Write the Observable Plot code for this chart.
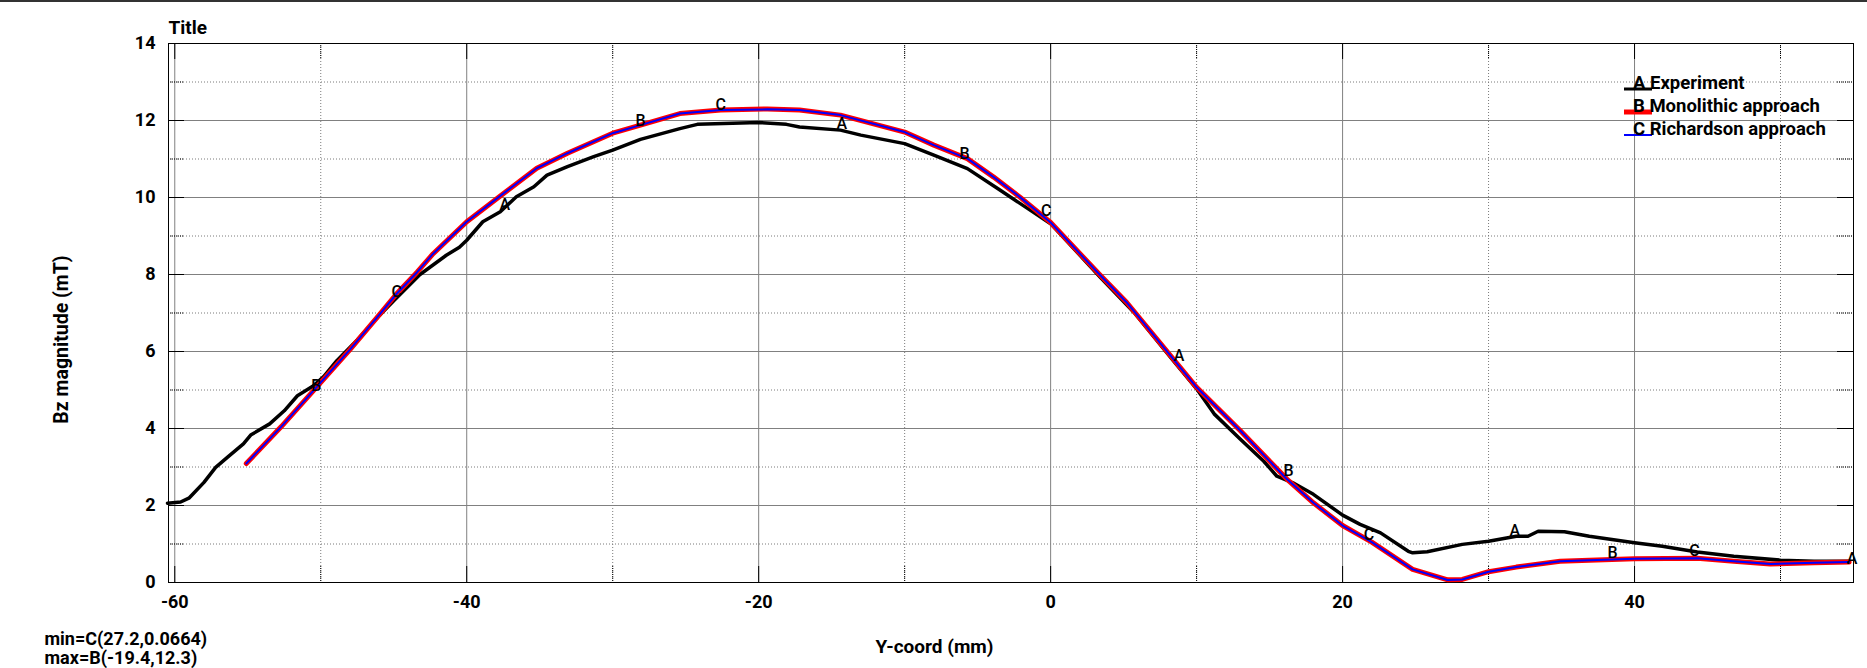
<!DOCTYPE html>
<html><head><meta charset="utf-8">
<script src="https://cdn.jsdelivr.net/npm/d3@7"></script>
<script src="https://cdn.jsdelivr.net/npm/@observablehq/plot@0.6"></script>
<style>
html,body{margin:0;padding:0;background:#fff;}
#chart{position:relative;width:1867px;height:668px;overflow:hidden;}
svg{display:block;}
</style></head><body><div id="chart"></div>
<script>
// ---- tick values ----
const xTicks = [-60, -40, -20, 0, 20, 40];
const xMinor = [-50, -30, -10, 10, 30, 50];
const yTicks = [0, 2, 4, 6, 8, 10, 12, 14];
const yMinor = [1, 3, 5, 7, 9, 11, 13];

// ---- series names / letters ----
const seriesNames = ["Experiment", "Monolithic approach", "Richardson approach"];
const seriesLetters = ["A", "B", "C"];

// ---- Experiment (A) ----
const expX = [-60.5, -59.6, -59.0, -58.0, -57.2, -56.4, -55.3, -54.8, -53.5, -52.5, -51.6, -50.5, -49.8, -48.9, -47.5, -46.0, -45.0, -43.2, -41.4, -40.5, -40.0, -38.9, -37.7, -36.6, -35.4, -34.5, -33.1, -31.3, -30.0, -28.1, -25.4, -24.2, -20.0, -18.1, -17.2, -14.4, -13.0, -10.0, -8.0, -5.7, -3.5, -1.2, 0.0, 3.4, 5.7, 8.4, 10.0, 11.2, 13.0, 14.6, 15.5, 16.6, 18.0, 20.0, 21.2, 22.6, 24.5, 24.8, 25.8, 28.2, 30.0, 31.9, 32.7, 33.4, 35.2, 36.9, 40.0, 41.9, 44.3, 46.8, 50.0, 52.3, 54.7];
const expY = [2.06, 2.09, 2.2, 2.6, 2.99, 3.25, 3.6, 3.83, 4.12, 4.46, 4.85, 5.11, 5.35, 5.76, 6.3, 6.93, 7.32, 8.0, 8.5, 8.71, 8.89, 9.37, 9.63, 10.02, 10.28, 10.58, 10.80, 11.06, 11.23, 11.51, 11.79, 11.90, 11.95, 11.90, 11.83, 11.75, 11.62, 11.40, 11.10, 10.75, 10.20, 9.62, 9.32, 7.93, 7.02, 5.76, 5.03, 4.38, 3.72, 3.15, 2.76, 2.59, 2.29, 1.75, 1.51, 1.29, 0.81, 0.77, 0.80, 0.99, 1.07, 1.20, 1.20, 1.33, 1.32, 1.20, 1.03, 0.94, 0.79, 0.68, 0.58, 0.55, 0.55];

// ---- Monolithic approach (B) ----
const monoX = [-55.1, -52.7, -50.3, -48.0, -45.95, -44.8, -43.4, -42.3, -40.0, -37.5, -35.2, -33.1, -30.0, -28.1, -25.4, -22.6, -19.4, -17.2, -14.4, -10.0, -8.0, -5.7, -3.9, -2.1, 0.0, 3.4, 5.2, 10.0, 13.0, 16.2, 18.0, 20.0, 22.0, 24.8, 27.2, 28.2, 30.0, 31.9, 34.9, 36.9, 40.0, 44.3, 46.8, 49.3, 52.3, 54.7];
const monoY = [3.09, 4.05, 5.07, 6.05, 6.97, 7.50, 8.06, 8.54, 9.37, 10.10, 10.76, 11.15, 11.67, 11.88, 12.18, 12.27, 12.30, 12.27, 12.14, 11.70, 11.36, 11.01, 10.53, 10.01, 9.35, 7.98, 7.28, 5.07, 3.94, 2.68, 2.07, 1.48, 1.05, 0.34, 0.07, 0.08, 0.28, 0.40, 0.55, 0.58, 0.62, 0.63, 0.55, 0.48, 0.51, 0.53];

// ---- Richardson approach (C) ----
const richX = [-55.1, -52.7, -50.3, -48.0, -45.95, -44.8, -43.4, -42.3, -40.0, -37.5, -35.2, -33.1, -30.0, -28.1, -25.4, -22.6, -19.4, -17.2, -14.4, -10.0, -8.0, -5.7, -3.9, -2.1, 0.0, 3.4, 5.2, 10.0, 13.0, 16.2, 18.0, 20.0, 22.0, 24.8, 27.2, 28.2, 30.0, 31.9, 34.9, 36.9, 40.0, 44.3, 46.8, 49.3, 52.3, 54.7];
const richY = [3.09, 4.05, 5.07, 6.05, 6.97, 7.50, 8.06, 8.54, 9.37, 10.10, 10.76, 11.15, 11.67, 11.88, 12.18, 12.27, 12.29, 12.27, 12.14, 11.70, 11.36, 11.01, 10.53, 10.01, 9.35, 7.98, 7.28, 5.07, 3.94, 2.68, 2.07, 1.48, 1.05, 0.34, 0.0664, 0.08, 0.28, 0.40, 0.55, 0.58, 0.62, 0.63, 0.55, 0.48, 0.51, 0.53];

// ---- letter markers along the curves ----
const markA_X = [-37.4, -14.3, 8.8, 31.8, 54.9];
const markA_Y = [9.8, 11.92, 5.89, 1.33, 0.62];
const markB_X = [-50.3, -28.1, -5.9, 16.3, 38.5];
const markB_Y = [5.11, 11.99, 11.14, 2.90, 0.76];
const markC_X = [-44.8, -22.6, -0.3, 21.8, 44.1];
const markC_Y = [7.54, 12.40, 9.64, 1.25, 0.81];

const minText = "min=C(27.2,0.0664)";
const maxText = "max=B(-19.4,12.3)";

// ---- build tables ----
const toRows = (xs, ys) => xs.map((x, i) => ({x, y: ys[i]}));
const expData = toRows(expX, expY);
const monoData = toRows(monoX, monoY);
const richData = toRows(richX, richY);
const markers = [
  ...markA_X.map((x, i) => ({x, y: markA_Y[i], t: seriesLetters[0]})),
  ...markB_X.map((x, i) => ({x, y: markB_Y[i], t: seriesLetters[1]})),
  ...markC_X.map((x, i) => ({x, y: markC_Y[i], t: seriesLetters[2]}))
];

const width = 1867, height = 668;
const mL = 168, mR = 14, mT = 43, mB = 86;
const W = width - mL - mR, H = height - mT - mB;
const tickLen = 16;
const font = "Roboto, 'Liberation Sans', sans-serif";

const plot = Plot.plot({
  width, height,
  marginLeft: mL, marginRight: mR, marginTop: mT, marginBottom: mB,
  x: {domain: [-60.43, 55]},
  y: {domain: [0, 14]},
  style: {fontFamily: font, background: "white", overflow: "visible"},
  marks: [
    // grid
    Plot.ruleX(xMinor, {stroke: "#7a7a7a", strokeDasharray: "1,2"}),
    Plot.ruleY(yMinor, {stroke: "#7a7a7a", strokeDasharray: "1,2"}),
    Plot.ruleX(xTicks, {stroke: "#808080"}),
    Plot.ruleY(yTicks, {stroke: "#808080"}),
    // inward ticks
    Plot.ruleY(yTicks, {stroke: "black", insetRight: W - tickLen}),
    Plot.ruleY(yTicks, {stroke: "black", insetLeft: W - tickLen}),
    Plot.ruleY(yMinor, {stroke: "black", strokeDasharray: "1,1", insetRight: W - tickLen}),
    Plot.ruleY(yMinor, {stroke: "black", strokeDasharray: "1,1", insetLeft: W - tickLen}),
    Plot.ruleX(xTicks, {stroke: "black", insetTop: H - tickLen}),
    Plot.ruleX(xTicks, {stroke: "black", insetBottom: H - tickLen}),
    Plot.ruleX(xMinor, {stroke: "black", strokeDasharray: "1,1", insetTop: H - tickLen}),
    Plot.ruleX(xMinor, {stroke: "black", strokeDasharray: "1,1", insetBottom: H - tickLen}),
    Plot.frame({stroke: "black"}),
    // axes labels
    Plot.axisX(xTicks, {tickSize: 0, tickPadding: 13, fontSize: 18, fontWeight: "bold", fill: "black", tickFormat: d => String(d), label: null}),
    Plot.axisY(yTicks, {tickSize: 0, tickPadding: 13, fontSize: 18, fontWeight: "bold", fill: "black", tickFormat: d => String(d), label: null}),
    // series
    Plot.line(expData, {x: "x", y: "y", stroke: "black", strokeWidth: 3.5}),
    Plot.line(monoData, {x: "x", y: "y", stroke: "#ff0000", strokeWidth: 5}),
    Plot.line(richData, {x: "x", y: "y", stroke: "#0000ff", strokeWidth: 2}),
    Plot.text(markers, {x: "x", y: "y", text: "t", fontSize: 16, fontWeight: 500, fill: "black", textAnchor: "middle", lineAnchor: "middle"}),
    // titles
    Plot.text(["Title"], {text: d => d, frameAnchor: "top-left", dy: -16, textAnchor: "start", lineAnchor: "middle", fontSize: 19, fontWeight: "bold", fill: "black"}),
    Plot.text(["Bz magnitude (mT)"], {text: d => d, frameAnchor: "left", dx: -107, dy: 26.5, rotate: -90, textAnchor: "middle", lineAnchor: "middle", fontSize: 19.5, fontWeight: "bold", fill: "black"}),
    Plot.text(["Y-coord (mm)"], {text: d => d, frameAnchor: "bottom", dx: -76.5, dy: 64, textAnchor: "middle", lineAnchor: "middle", fontSize: 19, fontWeight: "bold", fill: "black"}),
    Plot.text([minText], {text: d => d, frameAnchor: "bottom-left", dx: -124, dy: 57, textAnchor: "start", lineAnchor: "middle", fontSize: 18, fontWeight: "bold", fill: "black"}),
    Plot.text([maxText], {text: d => d, frameAnchor: "bottom-left", dx: -124, dy: 75.5, textAnchor: "start", lineAnchor: "middle", fontSize: 18, fontWeight: "bold", fill: "black"})
  ]
});

document.getElementById("chart").appendChild(plot);

// ---- legend (inside top-right of the frame) ----
const svg = d3.select(plot);
svg.append("rect").attr("x", 0).attr("y", 0).attr("width", width).attr("height", 2).attr("fill", "#333");
const legendColors = ["#000000", "#ff0000", "#0000ff"];
const legendWidths = [3, 5, 2];
const legendY = [89, 112, 135];
const lg = svg.append("g");
seriesNames.forEach((name, i) => {
  lg.append("line").attr("x1", 1624).attr("x2", 1652).attr("y1", legendY[i]).attr("y2", legendY[i])
    .attr("stroke", legendColors[i]).attr("stroke-width", legendWidths[i]);
  lg.append("text").attr("x", 1633).attr("y", legendY[i]).attr("fill", "black")
    .style("text-anchor", "start").style("font-family", font)
    .style("font-size", "18.5px").style("font-weight", "bold")
    .text(seriesLetters[i] + " " + name);
});
</script>
</body></html>
